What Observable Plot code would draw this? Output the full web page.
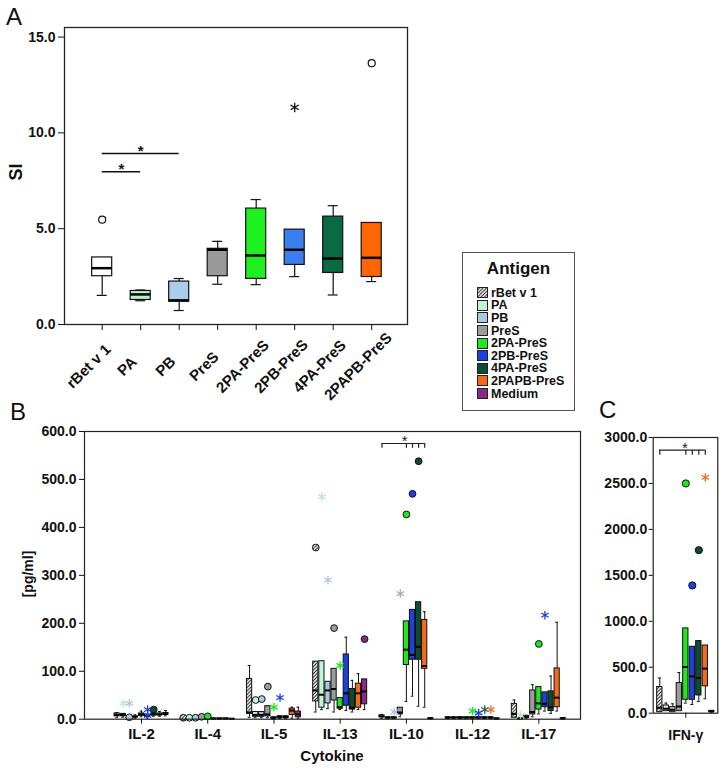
<!DOCTYPE html>
<html><head><meta charset="utf-8">
<script src="https://cdn.jsdelivr.net/npm/d3@7"></script>
<script src="https://cdn.jsdelivr.net/npm/@observablehq/plot@0.6"></script>
<style>
html,body{margin:0;padding:0;background:#fff;}
#root{position:relative;width:724px;height:769px;overflow:hidden;font-family:"Liberation Sans",Arial,Helvetica,sans-serif;color:#111;background:#fff;}
.panel{position:absolute;}
.panel svg{max-width:none !important;background:transparent !important;display:block;}
.letter{position:absolute;font-size:24px;line-height:1;font-weight:normal;}
.lab{position:absolute;font-weight:bold;line-height:1;white-space:nowrap;transform:translate(-50%,-50%);}
.rot{transform:translate(-50%,-50%) rotate(-90deg);}
#legend{position:absolute;left:462px;top:252px;width:111px;height:157px;border:1.5px solid #555;background:#fff;}
#legend .title{position:absolute;left:0;right:0;top:7px;text-align:center;font-weight:bold;font-size:17px;line-height:1;}
#legend .li{position:absolute;left:14px;height:12.6px;display:flex;align-items:center;font-weight:bold;font-size:12.5px;white-space:nowrap;}
#legend .li svg{margin-right:3px;flex:none;}
</style></head><body>
<div id="root">
<svg width="0" height="0" style="position:absolute"><defs>
<pattern id="hatch" patternUnits="userSpaceOnUse" width="3.5" height="3.5"><rect width="3.5" height="3.5" fill="#fff"/><path d="M-1,1 l2,-2 M0,3.5 l3.5,-3.5 M2.5,4.5 l2,-2" stroke="#000" stroke-width="0.9"/></pattern>
</defs></svg>
<div class="letter" style="left:6px;top:5px">A</div>
<div class="letter" style="left:10px;top:400px">B</div>
<div class="letter" style="left:599px;top:398px">C</div>
<div id="pA" class="panel" style="left:0;top:0;width:430px"></div>
<div id="pB" class="panel" style="left:0;top:420px;width:600px"></div>
<div id="pC" class="panel" style="left:590px;top:420px;width:134px"></div>
<div class="lab rot" style="left:16px;top:172px;font-size:18px">SI</div>
<div class="lab rot" style="left:27.5px;top:574px;font-size:14px">[pg/ml]</div>
<div class="lab" style="left:332px;top:755px;font-size:15px">Cytokine</div>
<div id="legend"><div class="title">Antigen</div></div>
</div>
<script>
// ---------- shared categories ----------
const antigens = ["rBet v 1","PA","PB","PreS","2PA-PreS","2PB-PreS","4PA-PreS","2PAPB-PreS","Medium"];
const colorsA = ["#ffffff","#b8f0c9","#aacdee","#999999","#1ff01f","#3a7ff0","#0a6a44","#ff6600"];
const colorsB = ["url(#hatch)","#c2f3d2","#aac9e4","#9c9c9c","#22e61f","#1d40e0","#0e4b33","#f46a1c","#8b2a84"];
const starColors = ["#333333","#b9e8cc","#a9c6e3","#aaaaaa","#22e61f","#1d40e0","#17605a","#f46a1c","#8b2a84"];

// ---------- Panel A: SI ----------
const antigensA = antigens.slice(0, 8);
const siTicks = [0, 5, 10, 15];
const siLow  = [1.52, 1.24, 0.73, 2.10, 2.08, 2.50, 1.54, 2.24];
const siQ1   = [2.52, 1.28, 1.19, 2.52, 2.38, 3.11, 2.69, 2.48];
const siMed  = [2.94, 1.57, 1.26, 3.90, 3.60, 3.90, 3.44, 3.48];
const siQ3   = [3.50, 1.75, 2.24, 3.95, 6.05, 4.95, 5.63, 5.30];
const siHigh = [3.50, 1.80, 2.40, 4.34, 6.52, 4.95, 6.20, 5.30];
const siOutAntigen = ["rBet v 1", "2PB-PreS", "2PAPB-PreS"];
const siOutValue   = [5.47, 11.33, 13.64];
const siOutShape   = ["circle", "star", "circle"];
const siSigFrom = ["rBet v 1", "rBet v 1"];
const siSigTo   = ["PA", "PB"];
const siSigY    = [7.97, 8.92];

// ---------- Panel B: cytokines [pg/ml] (rows = cytokine, cols = antigen) ----------
const cytokines = ["IL-2","IL-4","IL-5","IL-13","IL-10","IL-12","IL-17"];
const bTicks = [0, 100, 200, 300, 400, 500, 600];
const bLow = [
  [3, 4, 0, 2, 5, 3, 6, 6, 7],
  [0, 0, 0, 0, 0, 0, 0, 0, 0],
  [4, 3, 3, 3, 0, 1, 1, 2, 2],
  [15, 20, 22, 15, 20, 18, 15, 20, 20],
  [2, 1, 1, 5, 37, 48, 27, 25, 0],
  [1, 1, 1, 1, 1, 1, 1, 1, 0],
  [3, 0, 2, 5, 11, 17, 12, 17, 0]
];
const bQ1 = [
  [6, 6, 1, 4, 7, 5, 8, 8, 9],
  [0.3, 0.3, 0.3, 0.3, 0.3, 0.3, 0.3, 0.3, 0.2],
  [11, 5, 5, 6, 1, 3, 3, 9, 4],
  [37, 24, 33, 39, 22, 28, 20, 24, 31],
  [4, 2, 2, 10, 113, 124, 124, 105, 1],
  [2, 2, 2, 2, 2, 2, 2, 2, 1],
  [3, 0.5, 3, 10, 20, 25, 17, 25, 1]
];
const bMed = [
  [9, 9, 2, 5, 10, 7, 10, 10, 11],
  [1, 1, 1, 1, 1, 1, 1, 1, 0.5],
  [14, 9, 9, 10, 2, 4, 4, 18, 10],
  [60, 51, 60, 63, 25, 54, 24, 54, 58],
  [6, 3, 3, 14, 145, 134, 151, 111, 1.5],
  [3, 3, 3, 3, 3, 3, 3, 3, 1],
  [11, 1, 5, 15, 33, 32, 25, 45, 1.5]
];
const bQ3 = [
  [12, 11, 3, 6, 12, 9, 12, 12, 13],
  [1.8, 1.8, 1.8, 1.8, 1.8, 1.8, 1.8, 1.8, 1],
  [84, 15, 15, 27, 4, 6, 6, 22, 16],
  [120, 121, 78, 105, 44, 135, 63, 74, 83],
  [8, 4, 4, 24, 204, 228, 244, 207, 2],
  [4, 4, 4, 4, 4, 4, 4, 4, 2],
  [32, 2, 7, 60, 67, 56, 58, 106, 2]
];
const bHigh = [
  [14, 12, 4, 9, 17, 11, 14, 16, 18],
  [2, 2, 2, 2, 2, 2, 2, 2, 1],
  [112, 16, 16, 28, 5, 7, 7, 25, 25],
  [120, 121, 78, 105, 44, 171, 81, 95, 83],
  [10, 5, 5, 24, 204, 228, 244, 224, 3],
  [5, 5, 5, 5, 5, 6, 5, 5, 2],
  [40, 3, 8, 72, 67, 56, 90, 202, 3]
];
const bOutCytokine = ["IL-2","IL-2","IL-2","IL-2","IL-2","IL-2",
  "IL-4","IL-4","IL-4","IL-4","IL-4",
  "IL-5","IL-5","IL-5","IL-5","IL-5",
  "IL-13","IL-13","IL-13","IL-13","IL-13","IL-13",
  "IL-10","IL-10","IL-10","IL-10","IL-10",
  "IL-12","IL-12","IL-12","IL-12",
  "IL-17","IL-17","IL-17"];
const bOutAntigen = ["PA","PB","PB","2PB-PreS","2PB-PreS","4PA-PreS",
  "rBet v 1","PA","PB","PreS","2PA-PreS",
  "PA","PB","PreS","2PA-PreS","2PB-PreS",
  "rBet v 1","PA","PB","PreS","2PA-PreS","Medium",
  "PB","PreS","2PA-PreS","2PB-PreS","4PA-PreS",
  "2PA-PreS","2PB-PreS","4PA-PreS","2PAPB-PreS",
  "PA","2PA-PreS","2PB-PreS"];
const bOutValue = [33, 33, 4, 20, 8, 20,
  3, 3, 3, 5, 6,
  40, 42, 68, 25, 45,
  358, 464, 290, 190, 112, 167,
  15, 262, 427, 470, 538,
  17, 13, 20, 20,
  8, 157, 217];
const bOutShape = ["star","star","circle","star","star","circle",
  "circle","circle","circle","circle","circle",
  "circle","circle","circle","star","star",
  "circle","star","star","circle","star","circle",
  "star","star","circle","circle","circle",
  "star","star","star","star",
  "star","circle","star"];
const bSigCytokine = "IL-10";
const bSigFrom = "rBet v 1";
const bSigTo = ["2PA-PreS","2PB-PreS","4PA-PreS","2PAPB-PreS"];
const bSigY = 575;
const bSigDrop = 10;

// ---------- Panel C: IFN-γ [pg/ml] ----------
const cytokinesC = ["IFN-γ"];
const cTicks = [0, 500, 1000, 1500, 2000, 2500, 3000];
const cLow  = [11, 22, 11, 22, 110, 95, 128, 157, 10];
const cQ1   = [11, 22, 11, 22, 146, 146, 193, 292, 15];
const cMed  = [59, 48, 37, 73, 503, 401, 383, 485, 20];
const cQ3   = [285, 84, 66, 328, 923, 723, 785, 737, 25];
const cHigh = [383, 110, 102, 442, 923, 723, 785, 737, 30];
const cOutAntigen = ["2PA-PreS","2PB-PreS","4PA-PreS","2PAPB-PreS"];
const cOutValue = [2500, 1390, 1774, 2566];
const cOutShape = ["circle","circle","circle","star"];
const cSigFrom = "rBet v 1";
const cSigTo = ["2PA-PreS","2PB-PreS","4PA-PreS","2PAPB-PreS"];
const cSigY = 2862;
const cSigDrop = 55;

// ---------- helpers ----------
const FONT = '"Liberation Sans", Arial, Helvetica, sans-serif';
const fmt = d3.format(".1f");
const ai = a => antigens.indexOf(a);
const svgStyle = {fontFamily: FONT, fontWeight: "bold", fontSize: "14px", background: "transparent", color: "#111", overflow: "visible"};

function boxMarks(rows, hw, cap, opts) {
  const sw = opts.sw || 1;
  return [
    Plot.ruleX(rows, {x: "x", y1: "low", y2: "q1", stroke: "#111", strokeWidth: sw}),
    Plot.ruleX(rows, {x: "x", y1: "q3", y2: "high", stroke: "#111", strokeWidth: sw}),
    Plot.ruleY(rows.filter(d => d.low < d.q1), {y: "low", x1: d => d.x - cap, x2: d => d.x + cap, stroke: "#111", strokeWidth: sw}),
    Plot.ruleY(rows.filter(d => d.high > d.q3), {y: "high", x1: d => d.x - cap, x2: d => d.x + cap, stroke: "#111", strokeWidth: sw}),
    Plot.rect(rows, {x1: d => d.x - hw, x2: d => d.x + hw, y1: "q1", y2: "q3", fill: "fill", stroke: "#111", strokeWidth: opts.boxSw || 1}),
    Plot.ruleY(rows, {y: "med", x1: d => d.x - hw, x2: d => d.x + hw, stroke: "#000", strokeWidth: opts.medSw || 2})
  ];
}

// ---------- Panel A ----------
const rowsA = antigensA.map((a, i) => ({x: i, low: siLow[i], q1: siQ1[i], med: siMed[i], q3: siQ3[i], high: siHigh[i], fill: colorsA[i]}));
const outA = siOutAntigen.map((a, i) => ({x: ai(a), y: siOutValue[i], shape: siOutShape[i]}));
const sigA = siSigFrom.map((f, i) => ({x1: ai(f), x2: ai(siSigTo[i]), y: siSigY[i]}));
const plotA = Plot.plot({
  width: 430, height: 405,
  marginLeft: 64, marginRight: 23, marginTop: 27, marginBottom: 81,
  x: {domain: [-0.979, 7.93], axis: null},
  y: {domain: [0, 15.5], axis: null},
  color: {type: "identity"},
  style: svgStyle,
  marks: [
    ...boxMarks(rowsA, 0.26, 0.13, {sw: 1.2, boxSw: 1.2, medSw: 2.5}),
    Plot.dot(outA.filter(d => d.shape === "circle"), {x: "x", y: "y", r: 3.5, fill: "white", stroke: "#111", strokeWidth: 1.2}),
    Plot.dot(outA.filter(d => d.shape === "star"), {x: "x", y: "y", r: 4.5, symbol: "asterisk", stroke: "#111", strokeWidth: 1.3}),
    Plot.ruleY(sigA, {x1: "x1", x2: "x2", y: "y", stroke: "#111", strokeWidth: 1.5}),
    Plot.text(sigA, {x: d => (d.x1 + d.x2) / 2, y: "y", text: () => "*", lineAnchor: "bottom", fontSize: 15, dy: 2, fill: "#111"}),
    Plot.frame({stroke: "#222", strokeWidth: 1.3}),
    Plot.axisY({ticks: siTicks, tickFormat: fmt, tickSize: 6, tickPadding: 3, fontSize: 14, label: null}),
    Plot.axisX({ticks: d3.range(antigensA.length), tickFormat: () => "", tickSize: 6, label: null}),
    Plot.text(antigensA, {x: (d, i) => i, text: d => d, frameAnchor: "bottom", rotate: -45, textAnchor: "middle", lineAnchor: "middle", fontSize: 15, dx: -13.5, dy: 42, fill: "#111"})
  ]
});
document.getElementById("pA").append(plotA);

// ---------- Panel B ----------
const stepB = 66.22;
const offB = 6.1 / stepB, hwB = 2.6 / stepB, capB = 1.4 / stepB;
const rowsB = [];
cytokines.forEach((c, ci) => antigens.forEach((a, j) => rowsB.push({
  x: ci + (j - 4) * offB, low: bLow[ci][j], q1: bQ1[ci][j], med: bMed[ci][j], q3: bQ3[ci][j], high: bHigh[ci][j], fill: colorsB[j]
})));
const outB = bOutValue.map((v, i) => {
  const j = ai(bOutAntigen[i]);
  return {x: cytokines.indexOf(bOutCytokine[i]) + (j - 4) * offB, y: v, shape: bOutShape[i], fill: colorsB[j], star: starColors[j]};
});
const ciSig = cytokines.indexOf(bSigCytokine);
const bxFrom = ciSig + (ai(bSigFrom) - 4) * offB;
const bxTo = bSigTo.map(a => ciSig + (ai(a) - 4) * offB);
const bDrops = [bxFrom, ...bxTo].map(x => ({x}));
const plotB = Plot.plot({
  width: 600, height: 349,
  marginLeft: 84, marginRight: 20, marginTop: 11, marginBottom: 50.3,
  x: {domain: [-0.861, 6.629], axis: null},
  y: {domain: [0, 600], axis: null},
  color: {type: "identity"},
  style: svgStyle,
  marks: [
    ...boxMarks(rowsB, hwB, capB, {sw: 1, boxSw: 1, medSw: 2}),
    Plot.dot(outB.filter(d => d.shape === "circle"), {x: "x", y: "y", r: 3.4, fill: "fill", stroke: "#111", strokeWidth: 1}),
    Plot.dot(outB.filter(d => d.shape === "star"), {x: "x", y: "y", r: 4, symbol: "asterisk", stroke: "star", strokeWidth: 1.3}),
    Plot.ruleY([bSigY], {x1: bxFrom, x2: bxTo[bxTo.length - 1], y: d => d, stroke: "#222", strokeWidth: 1.2}),
    Plot.ruleX(bDrops, {x: "x", y1: bSigY - bSigDrop, y2: bSigY, stroke: "#222", strokeWidth: 1.2}),
    Plot.text([bSigY], {x: bxTo[0] - 0.3 * offB, y: d => d, text: () => "*", lineAnchor: "bottom", fontSize: 15, fontWeight: "normal", dy: 2.5, fill: "#222"}),
    Plot.frame({stroke: "#222", strokeWidth: 1.2}),
    Plot.axisY({ticks: bTicks, tickFormat: fmt, tickSize: 5, tickPadding: 3, fontSize: 14, label: null}),
    Plot.axisX({ticks: d3.range(cytokines.length), tickFormat: i => cytokines[i], tickSize: 5, tickPadding: 4, fontSize: 15, label: null})
  ]
});
document.getElementById("pB").append(plotB);

// ---------- Panel C ----------
const stepC = 6.5;
const hwC = 2.65 / stepC, capC = 1.5 / stepC;
const rowsC = antigens.map((a, j) => ({x: j, low: cLow[j], q1: cQ1[j], med: cMed[j], q3: cQ3[j], high: cHigh[j], fill: colorsB[j]}));
const outC = cOutValue.map((v, i) => {
  const j = ai(cOutAntigen[i]);
  return {x: j, y: v, shape: cOutShape[i], fill: colorsB[j], star: starColors[j]};
});
const cxTo = cSigTo.map(ai);
const cDrops = [ai(cSigFrom), ...cxTo].map(x => ({x}));
const plotC = Plot.plot({
  width: 134, height: 349,
  marginLeft: 62.7, marginRight: 6.7, marginTop: 17, marginBottom: 56.3,
  x: {domain: [-1.015, 8.92], axis: null},
  y: {domain: [0, 3000], axis: null},
  color: {type: "identity"},
  style: svgStyle,
  marks: [
    ...boxMarks(rowsC, hwC, capC, {sw: 1, boxSw: 1, medSw: 2}),
    Plot.dot(outC.filter(d => d.shape === "circle"), {x: "x", y: "y", r: 3.6, fill: "fill", stroke: "#111", strokeWidth: 1}),
    Plot.dot(outC.filter(d => d.shape === "star"), {x: "x", y: "y", r: 4, symbol: "asterisk", stroke: "star", strokeWidth: 1.3}),
    Plot.ruleY([cSigY], {x1: ai(cSigFrom), x2: cxTo[cxTo.length - 1], y: d => d, stroke: "#222", strokeWidth: 1.2}),
    Plot.ruleX(cDrops, {x: "x", y1: cSigY - cSigDrop, y2: cSigY, stroke: "#222", strokeWidth: 1.2}),
    Plot.text([cSigY], {x: cxTo[0] - 0.15, y: d => d, text: () => "*", lineAnchor: "bottom", fontSize: 15, fontWeight: "normal", dy: 2.5, fill: "#222"}),
    Plot.frame({stroke: "#222", strokeWidth: 1.2}),
    Plot.axisY({ticks: cTicks, tickFormat: fmt, tickSize: 4, tickPadding: 2, fontSize: 14, label: null}),
    Plot.axisX({ticks: [4], tickFormat: () => cytokinesC[0], tickSize: 5, tickPadding: 12, fontSize: 14, label: null})
  ]
});
document.getElementById("pC").append(plotC);

// ---------- Legend ----------
const legend = document.getElementById("legend");
antigens.forEach((a, j) => {
  const row = document.createElement("div");
  row.className = "li";
  row.style.top = (33.5 + j * 12.6) + "px";
  row.innerHTML = `<svg width="11" height="11"><rect x="0.5" y="0.5" width="10" height="10" fill="${colorsB[j]}" stroke="#222" stroke-width="1"/></svg>`;
  const s = document.createElement("span");
  s.textContent = a;
  row.append(s);
  legend.append(row);
});
</script>
</body></html>
